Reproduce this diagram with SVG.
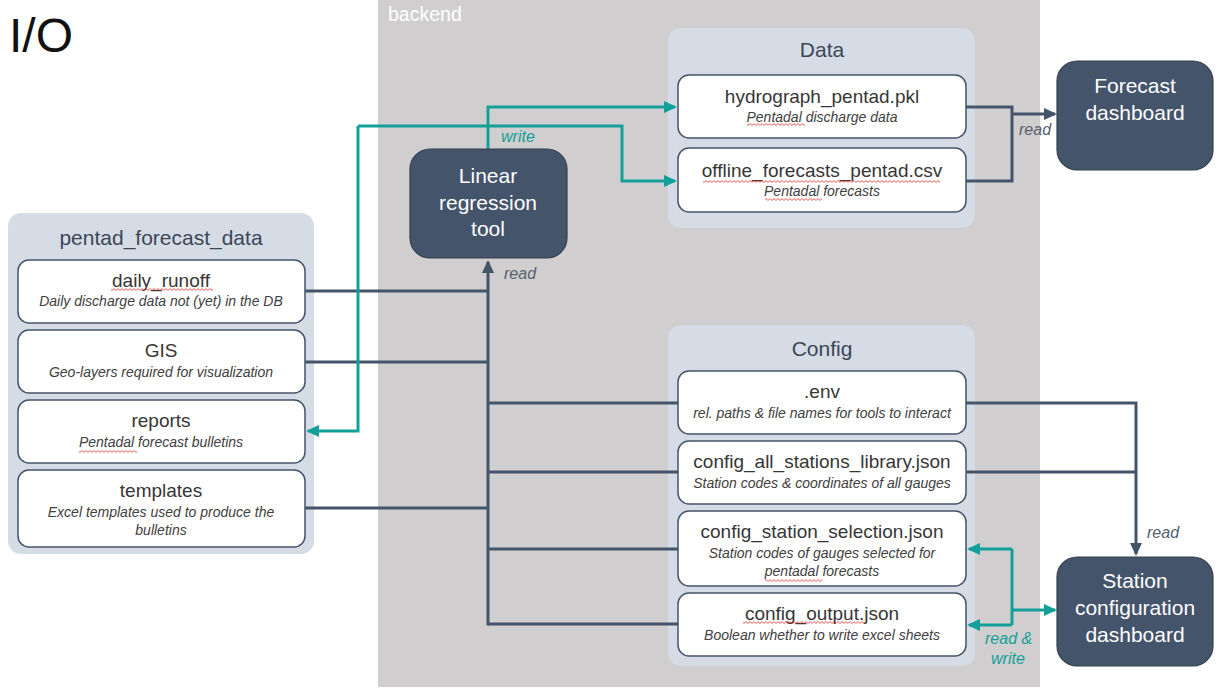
<svg xmlns="http://www.w3.org/2000/svg" width="1231" height="690" viewBox="0 0 1231 690">
<style>
  text { font-family: "Liberation Sans", Arial, sans-serif; }
  .grp { fill: #d6dce5; }
  .item { fill: #ffffff; stroke: #44546a; stroke-width: 1.5; }
  .dark { fill: #44546a; stroke: #34404f; stroke-width: 1.2; }
  .gtitle { font-size: 21px; fill: #3b4658; text-anchor: middle; }
  .ititle { font-size: 19px; fill: #363636; text-anchor: middle; }
  .isub { font-size: 14px; font-style: italic; fill: #404040; text-anchor: middle; }
  .dtext { font-size: 21px; fill: #ffffff; text-anchor: middle; }
  .cd { fill: none; stroke: #44546a; stroke-width: 3; }
  .ct { fill: none; stroke: #13a098; stroke-width: 3; }
  .lbl { font-size: 16px; font-style: italic; fill: #56606f; }
  .lblt { font-size: 16px; font-style: italic; fill: #13a098; }
  .sq { fill: url(#squig); }
</style>
<defs>
  <marker id="ad" markerUnits="userSpaceOnUse" markerWidth="13" markerHeight="12" refX="11" refY="6" orient="auto">
    <path d="M0,0 L13,6 L0,12 z" fill="#44546a"/>
  </marker>
  <marker id="at" markerUnits="userSpaceOnUse" markerWidth="13" markerHeight="12" refX="11" refY="6" orient="auto">
    <path d="M0,0 L13,6 L0,12 z" fill="#13a098"/>
  </marker>
  <pattern id="squig" patternUnits="userSpaceOnUse" width="4" height="3">
    <path d="M0,2.4 L2,0.6 L4,2.4" fill="none" stroke="#e0302a" stroke-width="0.8"/>
  </pattern>
</defs>

<rect width="1231" height="690" fill="#ffffff"/>
<text x="9" y="52" font-size="48" fill="#111111">I/O</text>

<g id="backend">
  <rect x="378" y="0" width="662" height="687" fill="#d0cece"/>
  <text x="388" y="21" font-size="19.5" fill="#ffffff">backend</text>
</g>

<g id="data-group">
  <rect class="grp" x="668" y="28" width="307" height="200" rx="13"/>
  <text class="gtitle" x="822" y="57">Data</text>
</g>
<g id="config-group">
  <rect class="grp" x="668" y="325" width="307" height="341" rx="13"/>
  <text class="gtitle" x="822" y="356">Config</text>
</g>
<g id="pentad-group">
  <rect class="grp" x="8" y="213" width="306" height="341" rx="13"/>
  <text class="gtitle" x="161" y="245">pentad_forecast_data</text>
</g>

<g id="connectors">
  <path class="cd" d="M305,291 H488"/>
  <path class="cd" d="M305,362 H488"/>
  <path class="cd" d="M305,508 H488"/>
  <path class="cd" d="M678,403 H488"/>
  <path class="cd" d="M678,472 H488"/>
  <path class="cd" d="M678,549 H488"/>
  <path class="cd" d="M678,624 H488"/>
  <path class="cd" d="M488,625.5 V262" marker-end="url(#ad)"/>
  <path class="cd" d="M966,107 H1012 V181 H966"/>
  <path class="cd" d="M1012,114 H1055" marker-end="url(#ad)"/>
  <path class="cd" d="M966,403 H1136 V554" marker-end="url(#ad)"/>
  <path class="cd" d="M966,472 H1136"/>

  <path class="ct" d="M488,149 V107 H675" marker-end="url(#at)"/>
  <path class="ct" d="M358,126 H622 V181 H675" marker-end="url(#at)"/>
  <path class="ct" d="M358,126 V431 H308" marker-end="url(#at)"/>
  <path class="ct" d="M1012,549 V625"/>
  <path class="ct" d="M1012,549 H969" marker-end="url(#at)"/>
  <path class="ct" d="M1012,625 H969" marker-end="url(#at)"/>
  <path class="ct" d="M1012,610 H1055" marker-end="url(#at)"/>

  <text class="lblt" x="501" y="142">write</text>
  <text class="lbl" x="504" y="279">read</text>
  <text class="lbl" x="1019" y="135">read</text>
  <text class="lbl" x="1147" y="538">read</text>
  <text class="lblt" x="985" y="644">read &amp;</text>
  <text class="lblt" x="991" y="664">write</text>
</g>

<g id="linear-regression-tool">
  <rect class="dark" x="410" y="149" width="157" height="109" rx="20"/>
  <text class="dtext" x="488" y="183">Linear</text>
  <text class="dtext" x="488" y="210">regression</text>
  <text class="dtext" x="488" y="236">tool</text>
</g>

<g id="forecast-dashboard">
  <rect class="dark" x="1057" y="61" width="156" height="109" rx="20"/>
  <text class="dtext" x="1135" y="93">Forecast</text>
  <text class="dtext" x="1135" y="120">dashboard</text>
</g>

<g id="station-configuration-dashboard">
  <rect class="dark" x="1057" y="557" width="156" height="109" rx="20"/>
  <text class="dtext" x="1135" y="588">Station</text>
  <text class="dtext" x="1135" y="615">configuration</text>
  <text class="dtext" x="1135" y="642">dashboard</text>
</g>

<g id="hydrograph_pentad">
  <rect class="item" x="678" y="75" width="288" height="63" rx="11"/>
  <text class="ititle" x="822" y="103">hydrograph_pentad.pkl</text>
  <text class="isub" x="822" y="122">Pentadal discharge data</text>
  <rect class="sq" x="747" y="123" width="58" height="3"/>
</g>

<g id="offline_forecasts_pentad">
  <rect class="item" x="678" y="148" width="288" height="64" rx="11"/>
  <text class="ititle" x="822" y="177">offline_forecasts_pentad.csv</text>
  <rect class="sq" x="703" y="180" width="237" height="3"/>
  <text class="isub" x="822" y="196">Pentadal forecasts</text>
  <rect class="sq" x="765" y="198" width="57" height="3"/>
</g>

<g id="daily_runoff">
  <rect class="item" x="18" y="260" width="287" height="63" rx="11"/>
  <text class="ititle" x="161" y="287">daily_runoff</text>
  <rect class="sq" x="111" y="288" width="102" height="3"/>
  <text class="isub" x="161" y="306">Daily discharge data not (yet) in the DB</text>
</g>

<g id="gis">
  <rect class="item" x="18" y="330" width="287" height="63" rx="11"/>
  <text class="ititle" x="161" y="357">GIS</text>
  <text class="isub" x="161" y="377">Geo-layers required for visualization</text>
</g>

<g id="reports">
  <rect class="item" x="18" y="400" width="287" height="63" rx="11"/>
  <text class="ititle" x="161" y="427">reports</text>
  <text class="isub" x="161" y="447">Pentadal forecast bulletins</text>
  <rect class="sq" x="79" y="450" width="58" height="3"/>
</g>

<g id="templates">
  <rect class="item" x="18" y="470" width="287" height="77" rx="11"/>
  <text class="ititle" x="161" y="497">templates</text>
  <text class="isub" x="161" y="517">Excel templates used to produce the</text>
  <text class="isub" x="161" y="535">bulletins</text>
</g>

<g id="env">
  <rect class="item" x="678" y="371" width="288" height="63" rx="11"/>
  <text class="ititle" x="822" y="398">.env</text>
  <text class="isub" x="822" y="418">rel. paths &amp; file names for tools to interact</text>
</g>

<g id="config_all_stations_library">
  <rect class="item" x="678" y="441" width="288" height="63" rx="11"/>
  <text class="ititle" x="822" y="468">config_all_stations_library.json</text>
  <text class="isub" x="822" y="488">Station codes &amp; coordinates of all gauges</text>
</g>

<g id="config_station_selection">
  <rect class="item" x="678" y="511" width="288" height="75" rx="11"/>
  <text class="ititle" x="822" y="538">config_station_selection.json</text>
  <text class="isub" x="822" y="558">Station codes of gauges selected for</text>
  <text class="isub" x="822" y="576">pentadal forecasts</text>
  <rect class="sq" x="765" y="579" width="57" height="3"/>
</g>

<g id="config_output">
  <rect class="item" x="678" y="593" width="288" height="63" rx="11"/>
  <text class="ititle" x="822" y="620">config_output.json</text>
  <rect class="sq" x="743" y="621" width="122" height="3"/>
  <text class="isub" x="822" y="640">Boolean whether to write excel sheets</text>
</g>
</svg>
